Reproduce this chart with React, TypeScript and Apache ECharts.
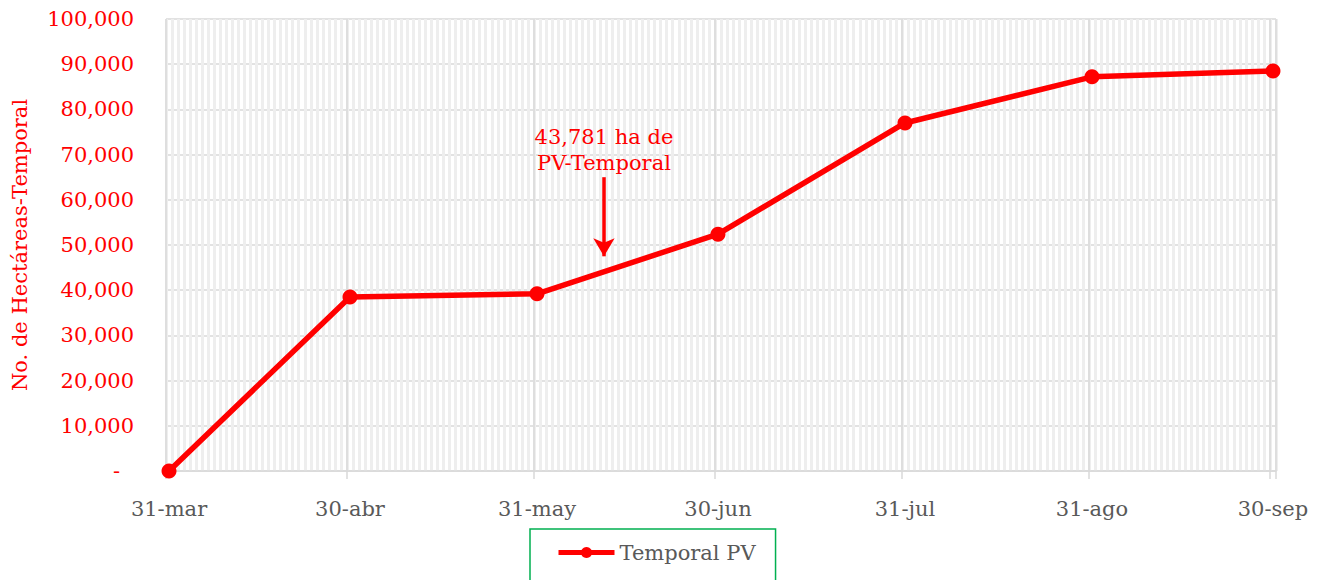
import React, { useEffect, useRef } from "react";
import * as echarts from "echarts";

// Data
const dateLabels = ["31-mar", "30-abr", "31-may", "30-jun", "31-jul", "31-ago", "30-sep"];
const dayOffsets = [0, 30, 61, 91, 122, 153, 183]; // days after 31-mar
const temporalPV = [0, 38500, 39200, 52400, 77000, 87200, 88500];
const annotationText = "43,781 ha de\nPV-Temporal";
const annotationDay = 72.6; // ~11-jun
const annotationArrowFrom = 65000;
const annotationArrowTo = 47500;
const annotationTextY = 71000;

const TOTAL_DAYS = 184;
const FONT = "'DejaVu Serif', serif";

export default function App() {
  const ref = useRef<HTMLDivElement>(null);
  useEffect(() => {
    if (!ref.current) return;
    document.body.style.margin = "0";
    const chart = echarts.init(ref.current, null, { renderer: "svg" });
    const pts = dayOffsets.map((d, i) => [d + 0.5, temporalPV[i]]);
    const labelPos = dayOffsets.map((d) => d + 0.5);
    const majorLines = [...dayOffsets, TOTAL_DAYS];
    const fmt = (v: number) => {
      const idx = labelPos.findIndex((p) => Math.abs(p - v) < 0.01);
      return idx >= 0 ? dateLabels[idx] : "";
    };
    chart.setOption({
      animation: false,
      textStyle: { fontFamily: FONT },
      grid: { left: 166, right: 46, top: 19, bottom: 109 },
      legend: {
        data: ["Temporal PV"],
        left: 530,
        top: 529,
        padding: [13, 20, 30, 26],
        borderColor: "#00b050",
        borderWidth: 1.5,
        itemWidth: 56,
        itemHeight: 14,
        lineStyle: { width: 5 },
        textStyle: { color: "#595959", fontSize: 21, fontFamily: FONT },
      },
      xAxis: [
        {
          type: "value",
          min: 0,
          max: TOTAL_DAYS,
          axisLine: { show: true, lineStyle: { color: "#d9d9d9", width: 1.5 } },
          axisTick: {
            show: true,
            length: 8,
            customValues: majorLines,
            lineStyle: { color: "#d9d9d9", width: 1.5 },
          },
          axisLabel: {
            customValues: labelPos,
            formatter: fmt,
            color: "#595959",
            fontSize: 21,
            fontFamily: FONT,
            margin: 27,
            showMinLabel: true,
            showMaxLabel: true,
          },
          splitLine: { show: false },
        },
        {
          type: "value",
          min: 0,
          max: TOTAL_DAYS,
          interval: 1,
          position: "top",
          axisLine: { show: false },
          axisTick: { show: false },
          axisLabel: { show: false },
          splitLine: { show: true, lineStyle: { color: "#eeeeee", width: 3 } },
        },
      ],
      yAxis: {
        type: "value",
        min: 0,
        max: 100000,
        interval: 10000,
        name: "No. de Hectáreas-Temporal",
        nameLocation: "middle",
        nameGap: 136,
        nameTextStyle: { color: "#ff0000", fontSize: 21, fontFamily: FONT },
        axisLine: { show: false },
        axisTick: { show: false },
        axisLabel: {
          color: "#ff0000",
          fontSize: 21,
          fontFamily: FONT,
          margin: 32,
          formatter: (v: number) =>
            v === 0 ? "{d|-}" : v.toLocaleString("en-US"),
          rich: { d: { color: "#ff0000", fontSize: 21, fontFamily: FONT, padding: [0, 14, 0, 0] } },
        },
        splitLine: { show: true, lineStyle: { color: "#d9d9d9", width: 1.5 } },
      },
      series: [
        {
          name: "gridlines",
          type: "line",
          data: [],
          z: 1,
          silent: true,
          markLine: {
            silent: true,
            symbol: ["none", "none"],
            label: { show: false },
            lineStyle: { color: "#d9d9d9", width: 1.5, type: "solid" },
            data: majorLines.map((d) => ({ xAxis: d })),
          },
        },
        {
          name: "Temporal PV",
          type: "line",
          data: pts,
          z: 5,
          symbol: "circle",
          symbolSize: 15,
          lineStyle: { color: "#ff0000", width: 5.5 },
          itemStyle: { color: "#ff0000" },
          markLine: {
            silent: true,
            symbol: ["none", "arrow"],
            symbolSize: [16, 18],
            label: { show: false },
            lineStyle: { color: "#ff0000", width: 3.5, type: "solid" },
            data: [
              [
                { coord: [annotationDay, annotationArrowFrom] },
                { coord: [annotationDay, annotationArrowTo] },
              ],
            ],
          },
          markPoint: {
            silent: true,
            symbol: "rect",
            symbolSize: 1,
            itemStyle: { color: "rgba(0,0,0,0)" },
            label: {
              show: true,
              position: "inside",
              formatter: annotationText,
              color: "#ff0000",
              fontSize: 21,
              fontFamily: FONT,
              lineHeight: 26,
              align: "center",
            },
            data: [{ coord: [annotationDay, annotationTextY] }],
          },
        },
      ],
    });
    return () => chart.dispose();
  }, []);
  return <div ref={ref} style={{ width: 1322, height: 580 }} />;
}
